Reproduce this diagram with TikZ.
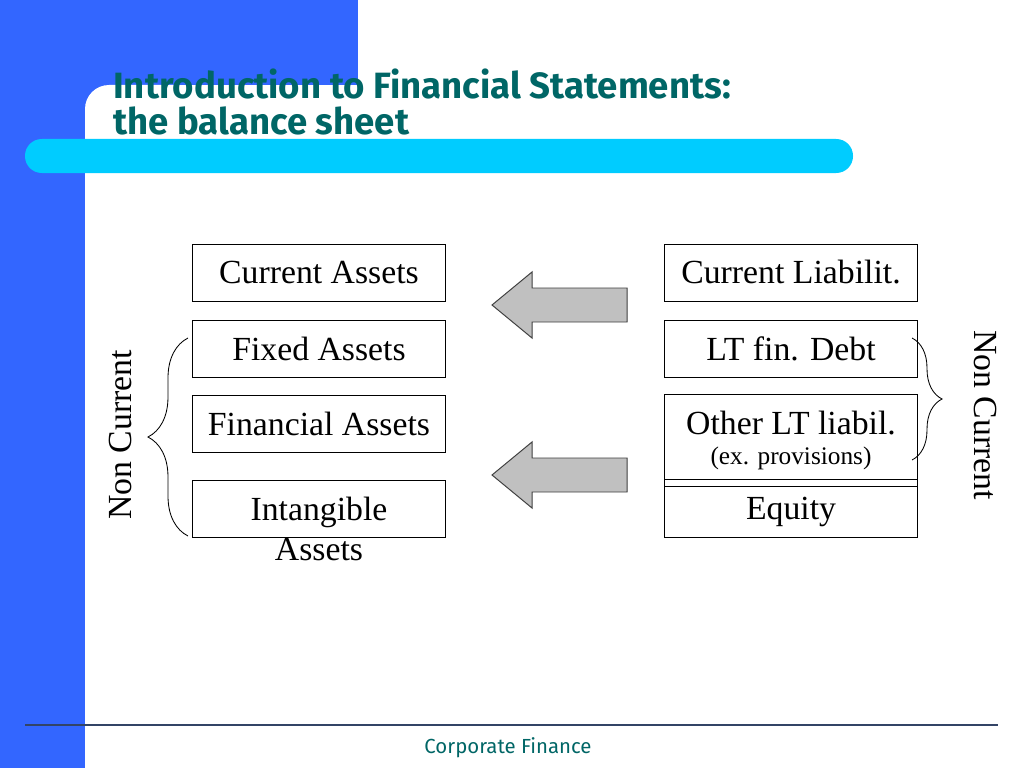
\documentclass[tikz,border=0pt]{standalone}
\usepackage{fontspec}
\setmainfont{Liberation Serif}
\newfontfamily\titlefont{Fira Sans}
\usepackage{xcolor}
\definecolor{slideblue}{RGB}{51,102,255}
\definecolor{slidecyan}{RGB}{0,204,255}
\definecolor{slideteal}{RGB}{0,102,102}
\definecolor{arrowgray}{RGB}{192,192,192}
\definecolor{footline}{RGB}{51,68,102}
\usepackage{tikz}
\usetikzlibrary{arrows.meta, positioning, calc, decorations.pathreplacing}

\begin{document}
\begin{tikzpicture}[
    x=0.025cm, y=-0.025cm,
    every node/.style={font=\fontsize{24}{29}\selectfont},
    item/.style={
        rectangle, draw=black, line width=0.7pt,
        minimum width=6.3cm, minimum height=1.425cm,
        text centered, inner sep=0pt
    },
    bigarrow/.style={draw=black!75, line width=0.7pt, fill=arrowgray},
    brace/.style={decorate, decoration={brace, amplitude=#1}, line width=0.6pt},
    sidelabel/.style={font=\fontsize{24}{29}\selectfont},
]

% ---- Slide background ----
\useasboundingbox (0,0) rectangle (1024,768);
\fill[white] (0,0) rectangle (1024,768);
\fill[slideblue] (0,0) rectangle (358,85);
\fill[slideblue] (0,0) rectangle (85,768);
\fill[slideblue] (85,85) rectangle (130,130);
\fill[white, rounded corners=0.6cm] (85,85) rectangle (200,200);
\fill[slidecyan, rounded corners=0.42cm] (25,139) rectangle (853,173);

% ---- Title ----
\node[font=\titlefont\bfseries\fontsize{26}{25}\selectfont, text=slideteal,
      align=left, anchor=north west, inner sep=0pt] (title) at (113,69)
      {Introduction to Financial Statements:\\the balance sheet};

% ---- Assets (left column) ----
\node[item] (ca)  at (319,272.5) {Current Assets};
\node[item] (fa)  at (319,348.5) {Fixed Assets};
\node[item] (fin) at (319,423.5) {Financial Assets};
\node[item, text depth=0pt] (ia) at (319,508.5)
      {\vtop{\halign{\hfil#\hfil\cr Intangible\cr Assets\cr}}};

% ---- Liabilities and equity (right column) ----
\node[item] (cl)  at (791,272.5) {Current Liabilit.};
\node[item] (ltd) at (791,348.5) {LT fin. Debt};
\node[item, minimum height=2.275cm, align=center] (oth) at (791,440.5)
      {Other LT liabil.\\[-7pt]{\fontsize{18}{20}\selectfont (ex. provisions)}};
\node[item, minimum height=1.45cm, text depth=0pt] (eq) at (791,508) {Equity};

% ---- Arrows ----
\draw[bigarrow] (492,305) -- (532,272) -- (532,288) -- (627,288)
      -- (627,322) -- (532,322) -- (532,338) -- cycle;
\draw[bigarrow] (492,475) -- (532,442) -- (532,458) -- (627,458)
      -- (627,492) -- (532,492) -- (532,508) -- cycle;

% ---- Non current braces ----
\draw[brace=1.0cm] (188,536) -- (188,338);
\node[sidelabel, rotate=90] (ncl) at (120,435) {Non Current};
\draw[brace=0.75cm] (912,338) -- (912,460);
\node[sidelabel, rotate=-90] (ncr) at (985,415) {Non Current};

% ---- Footer ----
\draw[footline, line width=0.8pt] (25,725) -- (998,725);
\node[font=\titlefont\fontsize{14.5}{16}\selectfont, text=slideteal] (foot)
      at (508,748) {Corporate Finance};

\end{tikzpicture}
\end{document}
